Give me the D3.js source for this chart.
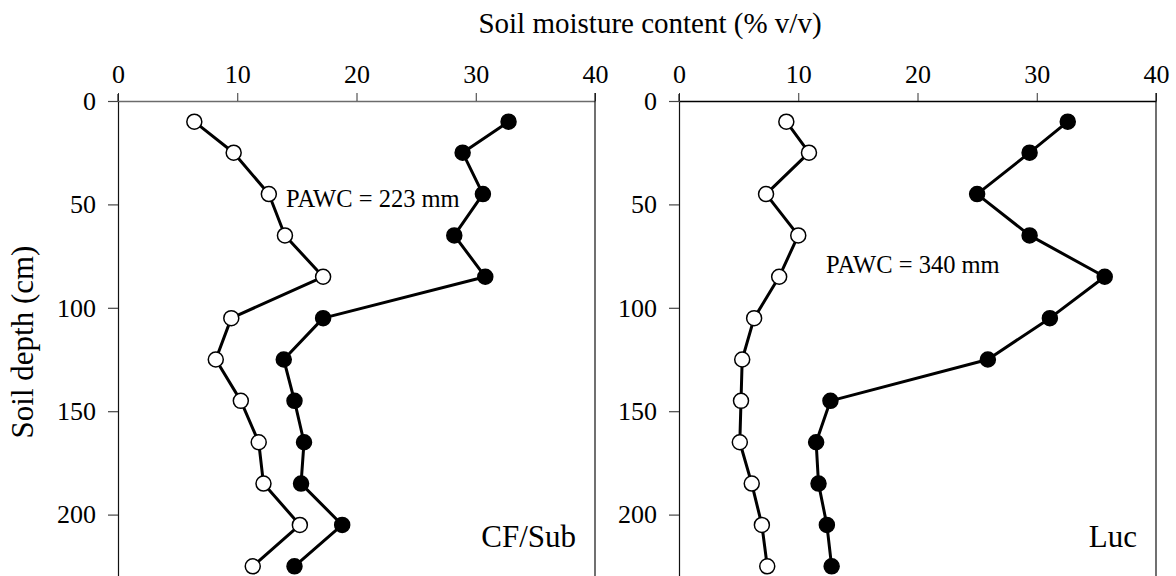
<!DOCTYPE html>
<html>
<head>
<meta charset="utf-8">
<script src="https://cdn.jsdelivr.net/npm/d3@7"></script>
<style>
  html, body { margin: 0; padding: 0; background: #fff; }
  svg { display: block; font-family: "Liberation Serif", "Times New Roman", serif; }
</style>
</head>
<body>
<svg id="chart" width="1176" height="576"></svg>
<script>
// Sampling depths (cm), midpoints of each soil layer
const depths = [10, 25, 45, 65, 85, 105, 125, 145, 165, 185, 205, 225];

// CF/Sub profile: lower limit (open) and upper limit (filled), % v/v
const cfsubLower = [6.4, 9.7, 12.65, 14.0, 17.2, 9.5, 8.2, 10.3, 11.8, 12.2, 15.25, 11.3];
const cfsubUpper = [32.75, 28.9, 30.6, 28.2, 30.8, 17.2, 13.9, 14.8, 15.6, 15.35, 18.8, 14.8];

// Lucerne profile
const lucLower = [9.0, 10.9, 7.3, 10.0, 8.4, 6.3, 5.3, 5.2, 5.1, 6.1, 6.95, 7.4];
const lucUpper = [32.6, 29.4, 25.0, 29.4, 35.7, 31.1, 25.9, 12.7, 11.5, 11.7, 12.4, 12.8];

const xTicks = [0, 10, 20, 30, 40];
const yTicks = [0, 50, 100, 150, 200];

const panelNames = ["CF/Sub", "Luc"];
const pawcLabels = ["PAWC = 223 mm", "PAWC = 340 mm"];
const titleText = "Soil moisture content (% v/v)";
const yTitleText = "Soil depth (cm)";

const svg = d3.select("#chart");

const plotTop = 101, depthMax = 230, pxPerCm = 2.068;
const y = d3.scaleLinear().domain([0, depthMax]).range([plotTop, plotTop + depthMax * pxPerCm]);

const panels = [
  { left: 118, right: 595, lower: cfsubLower, upper: cfsubUpper, name: panelNames[0],
    pawc: pawcLabels[0], pawcX: 286, pawcY: 207, topColor: "#6b6b6b" },
  { left: 679, right: 1156, lower: lucLower, upper: lucUpper, name: panelNames[1],
    pawc: pawcLabels[1], pawcX: 826, pawcY: 273, topColor: "#000" }
];

panels.forEach(p => {
  const x = d3.scaleLinear().domain([0, 40]).range([p.left, p.right]);
  const g = svg.append("g");

  // top axis (ticks point outward, labels above)
  const xAxis = g.append("g")
    .attr("transform", `translate(0,${plotTop})`)
    .call(d3.axisTop(x).tickValues(xTicks).tickSize(8).tickSizeOuter(0).tickPadding(10));
  xAxis.select(".domain").attr("stroke", p.topColor).attr("stroke-width", 1.6);
  xAxis.selectAll(".tick line").attr("stroke", "#333").attr("stroke-width", 1);
  xAxis.selectAll(".tick text")
    .attr("font-family", "Liberation Serif").attr("font-size", 26).attr("fill", "#000");

  // left axis
  const yAxis = g.append("g")
    .attr("transform", `translate(${p.left},0)`)
    .call(d3.axisLeft(y).tickValues(yTicks).tickSize(10).tickSizeOuter(0).tickPadding(12));
  yAxis.select(".domain").attr("stroke", "#111").attr("stroke-width", 1.2);
  yAxis.selectAll(".tick line").attr("stroke", "#444").attr("stroke-width", 1.2);
  yAxis.selectAll(".tick text")
    .attr("font-family", "Liberation Serif").attr("font-size", 26).attr("fill", "#000");

  // extend left axis above the top axis a little
  g.append("line")
    .attr("x1", p.left).attr("x2", p.left)
    .attr("y1", plotTop - 7).attr("y2", plotTop)
    .attr("stroke", "#111").attr("stroke-width", 1.2);

  // right frame
  g.append("line")
    .attr("x1", p.right).attr("x2", p.right)
    .attr("y1", plotTop - 8).attr("y2", y(depthMax))
    .attr("stroke", "#111").attr("stroke-width", 1.2);

  const line = d3.line().x(d => x(d[0])).y(d => y(d[1]));

  [[p.upper, "#000"], [p.lower, "#fff"]].forEach(([vals, fill]) => {
    const pts = vals.map((v, i) => [v, depths[i]]);
    g.append("path")
      .attr("d", line(pts))
      .attr("fill", "none").attr("stroke", "#000").attr("stroke-width", 3)
      .attr("stroke-linejoin", "round");
    g.selectAll(null).data(pts).enter().append("circle")
      .attr("cx", d => x(d[0])).attr("cy", d => y(d[1]))
      .attr("r", 7.5)
      .attr("fill", fill).attr("stroke", "#000").attr("stroke-width", 1.5);
  });

  g.append("text")
    .attr("x", p.pawcX).attr("y", p.pawcY)
    .attr("font-size", 24.5).attr("fill", "#000")
    .text(p.pawc);

  g.append("text")
    .attr("x", p.right - 19).attr("y", 547)
    .attr("text-anchor", "end")
    .attr("font-size", 31).attr("fill", "#000")
    .text(p.name);
});

svg.append("text")
  .attr("x", 650).attr("y", 33)
  .attr("text-anchor", "middle")
  .attr("font-size", 29).attr("fill", "#000")
  .text(titleText);

svg.append("text")
  .attr("transform", "translate(33,342) rotate(-90)")
  .attr("text-anchor", "middle")
  .attr("font-size", 31).attr("fill", "#000")
  .text(yTitleText);
</script>
</body>
</html>
